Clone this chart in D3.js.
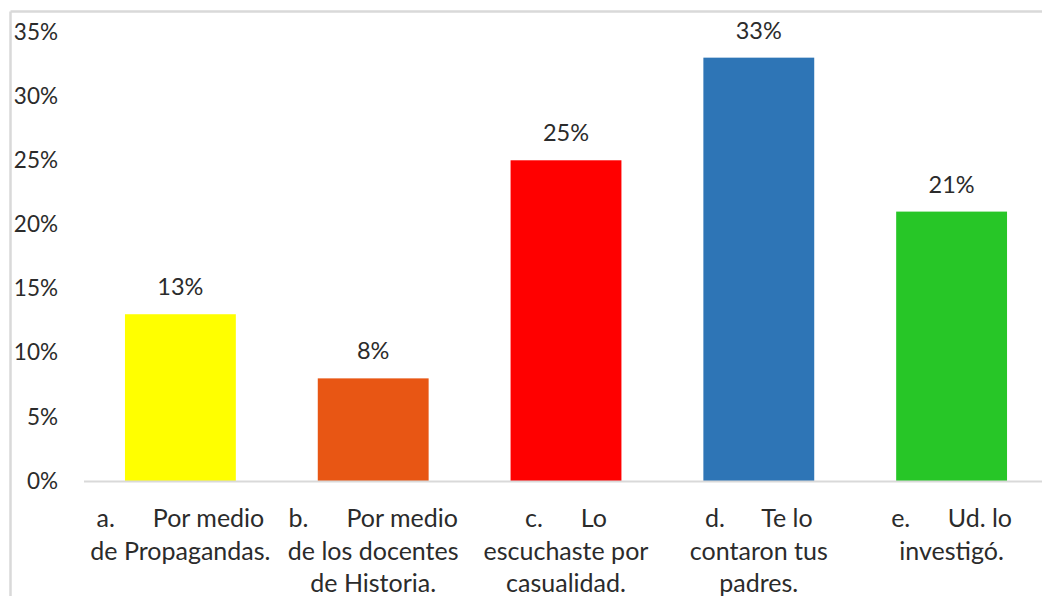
<!DOCTYPE html>
<html>
<head>
<meta charset="utf-8">
<script src="https://cdn.jsdelivr.net/npm/d3@7"></script>
<style>
  body { margin: 0; background: #fff; }
  text { font-family: Lato, "Open Sans", sans-serif; fill: #2b2b2b; }
</style>
</head>
<body>
<div id="chart"></div>
<script>

// data
var letters = ["a.", "b.", "c.", "d.", "e."];
var firstLines = ["Por medio", "Por medio", "Lo", "Te lo", "Ud. lo"];
var moreLines = [
  ["de Propagandas."],
  ["de los docentes", "de Historia."],
  ["escuchaste por", "casualidad."],
  ["contaron tus", "padres."],
  ["investigó."]
];
var values = [13, 8, 25, 33, 21];
var yTicks = [0, 5, 10, 15, 20, 25, 30, 35];
var colors = ["#FFFF00", "#E85614", "#FF0000", "#2E75B6", "#27C627"];

var svgWidth = 1042, svgHeight = 596;
var margin = {top: 32, right: -6, bottom: 115, left: 84},
    width = svgWidth - margin.left - margin.right,
    height = svgHeight - margin.top - margin.bottom;

var svg = d3.select("#chart").append("svg")
  .attr("width", svgWidth)
  .attr("height", svgHeight);

// outer frame (top and left edges visible)
svg.append("line")
  .attr("x1", 10.5).attr("x2", svgWidth).attr("y1", 11.5).attr("y2", 11.5)
  .attr("stroke", "#d9d9d9").attr("stroke-width", 2.5);
svg.append("line")
  .attr("x1", 10.5).attr("x2", 10.5).attr("y1", 11.5).attr("y2", svgHeight)
  .attr("stroke", "#d9d9d9").attr("stroke-width", 2.5);

var chartGroup = svg.append("g")
  .attr("transform", `translate(${margin.left}, ${margin.top})`);

var x = d3.scaleBand()
  .domain(letters)
  .range([0, width])
  .paddingInner(0.425)
  .paddingOuter(0.2125);

var y = d3.scaleLinear()
  .domain([0, 35])
  .range([height, 0]);

// y axis labels
var yAxis = d3.axisLeft(y)
  .tickValues(yTicks)
  .tickSize(0)
  .tickPadding(26)
  .tickFormat(d => d + "%");

var yg = chartGroup.append("g").call(yAxis);
yg.select(".domain").remove();
yg.selectAll("text")
  .style("font-family", "Lato, sans-serif")
  .style("font-size", "22.5px")
  .attr("fill", "#2b2b2b");

// bars
chartGroup.selectAll(".bar")
  .data(values)
  .enter().append("rect")
  .attr("class", "bar")
  .attr("x", (d, i) => x(letters[i]))
  .attr("width", x.bandwidth())
  .attr("y", d => y(d))
  .attr("height", d => height - y(d))
  .attr("fill", (d, i) => colors[i]);

// baseline
chartGroup.append("line")
  .attr("x1", 0).attr("x2", width)
  .attr("y1", height + 0.5).attr("y2", height + 0.5)
  .attr("stroke", "#d9d9d9").attr("stroke-width", 2);

// value labels
chartGroup.selectAll(".val")
  .data(values)
  .enter().append("text")
  .attr("class", "val")
  .attr("x", (d, i) => x(letters[i]) + x.bandwidth() / 2)
  .attr("y", d => y(d) - 19)
  .attr("text-anchor", "middle")
  .style("font-size", "23.5px")
  .text(d => d + "%");

// category labels
var cats = chartGroup.selectAll(".cat")
  .data(letters)
  .enter().append("text")
  .attr("class", "cat")
  .attr("text-anchor", "middle")
  .style("font-size", "25px");

cats.each(function(d, i) {
  var t = d3.select(this);
  var cx = x(d) + x.bandwidth() / 2;
  t.append("tspan").attr("x", cx).attr("y", height + 46).text(d);
  t.append("tspan").attr("dx", 38).text(firstLines[i]);
  moreLines[i].forEach(function(line, k) {
    t.append("tspan").attr("x", cx).attr("y", height + 46 + 32.5 * (k + 1)).text(line);
  });
});

</script>
</body>
</html>
